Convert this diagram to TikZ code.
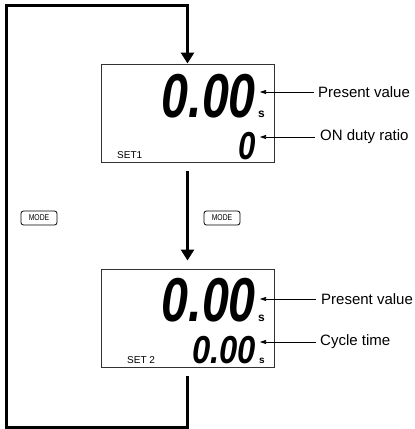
\documentclass[tikz,border=0pt]{standalone}
\usepackage{fontspec}
\setmainfont{Liberation Sans}
\usetikzlibrary{arrows.meta, positioning}
\definecolor{framegray}{RGB}{50, 50, 50}
\newcommand{\lcdtext}[2]{\scalebox{#1}[1]{#2}}

\begin{document}
\begin{tikzpicture}[x=1pt, y=-1pt,
        display/.style={draw=framegray, line width=1pt, minimum width=173pt,
                        minimum height=98pt, inner sep=0pt},
        bigseg/.style={font=\fontsize{62}{62}\selectfont\bfseries\itshape,
                       inner sep=0pt, anchor=east},
        smallseg/.style={font=\fontsize{39}{39}\selectfont\bfseries\itshape,
                         inner sep=0pt, anchor=east},
        unit/.style={font=\fontsize{12}{12}\selectfont\bfseries,
                     inner sep=0pt, anchor=south west},
        setname/.style={font=\fontsize{10}{10}\selectfont, inner sep=0pt,
                        anchor=west},
        keycap/.style={draw, rounded corners=2.5pt, line width=0.8pt,
                       minimum width=36pt, minimum height=14pt, inner sep=0pt,
                       font=\fontsize{8.5}{8.5}\selectfont},
        callout/.style={font=\fontsize{15}{15}\selectfont, anchor=west,
                        inner sep=0pt},
        flow/.style={line width=3pt, -{Triangle[length=11pt, width=13pt]}},
        pointer/.style={line width=0.6pt, -{Triangle[length=6pt, width=4pt]}}]
        \useasboundingbox (0,0) rectangle (415,429);

        % first display
        \node[display] (disp1) at (187.5,113) {};
        \node[bigseg] (pv1) at (256,96) {\lcdtext{0.78}{0.00}};
        \node[unit] (s1) at ([xshift=2pt]pv1.south east) {s};
        \node[smallseg] (duty) at (256,146) {\lcdtext{0.8}{0}};
        \node[setname] (set1) at (117,155) {SET1};

        % second display
        \node[display] (disp2) at (187.5,318) {};
        \node[bigseg] (pv2) at (256,300) {\lcdtext{0.78}{0.00}};
        \node[unit] (s2) at ([xshift=2pt]pv2.south east) {s};
        \node[smallseg] (cycle) at (256,350) {\lcdtext{0.84}{0.00}};
        \node[unit, font=\fontsize{10}{10}\selectfont\bfseries] (s3)
              at ([xshift=3pt]cycle.south east) {s};
        \node[setname] (set2) at (127,360) {SET 2};

        % labels
        \node[callout] (pvlabel1) at (318,92) {Present value};
        \node[callout] (dutylabel) at (320,137) {ON duty ratio};
        \node[callout] (pvlabel2) at (321,299) {Present value};
        \node[callout] (cyclelabel) at (320,342) {Cycle time};

        \draw[pointer] ([xshift=-4pt]pvlabel1.west)
            -- ([xshift=4pt]pv1.east |- pvlabel1.west);
        \draw[pointer] ([xshift=-5pt]dutylabel.west)
            -- ([xshift=4pt]duty.east |- dutylabel.west);
        \draw[pointer] ([xshift=-5pt]pvlabel2.west)
            -- ([xshift=4pt]pv2.east |- pvlabel2.west);
        \draw[pointer] ([xshift=-4pt]cyclelabel.west)
            -- ([xshift=4pt]cycle.east |- cyclelabel.west);

        % MODE keys
        \node[keycap] (key1) at (39,218) {\lcdtext{0.8}{MODE}};
        \node[keycap] (key2) at (222,218) {\lcdtext{0.8}{MODE}};

        % transitions
        \draw[flow] ([yshift=-8pt]disp1.south) -- ([yshift=8pt]disp2.north);
        \draw[flow] ([yshift=-8pt]disp2.south) |- (6,427) -- (6,5)
            -| (disp1.north);
    \end{tikzpicture}
\end{document}
